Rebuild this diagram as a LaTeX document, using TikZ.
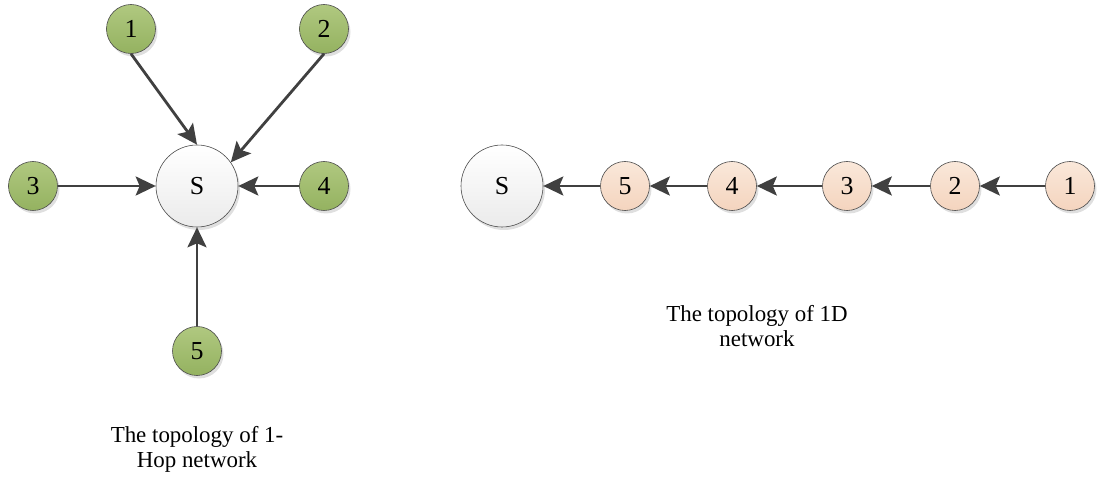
\documentclass[tikz,border=0pt]{standalone}
\usepackage{fontspec}
\setmainfont{Liberation Serif}
\usetikzlibrary{arrows.meta, shadows}
\definecolor{arrowgray}{RGB}{64,64,64}
\definecolor{greentop}{RGB}{176,200,128}
\definecolor{greenbot}{RGB}{148,178,96}
\definecolor{peachtop}{RGB}{250,232,218}
\definecolor{peachbot}{RGB}{244,212,190}

\begin{document}
\begin{tikzpicture}[x=1bp,y=-1bp,
    every edge/.style={draw=arrowgray,line width=2.8bp,
        -{Stealth[length=20bp,width=19bp,inset=4bp]}},
    every node/.style={font=\fontsize{26}{26}\selectfont},
    caption/.style={align=center,font=\fontsize{23}{25}\selectfont},
    sink/.style={circle,draw=black!70,line width=0.6bp,minimum size=82bp,inner sep=0pt,
        top color=white,bottom color=black!8,
        drop shadow={opacity=0.25,shadow xshift=2bp,shadow yshift=-3bp}},
    hop/.style={circle,draw=black!70,line width=0.6bp,minimum size=49bp,inner sep=0pt,
        top color=greentop,bottom color=greenbot,
        drop shadow={opacity=0.25,shadow xshift=2bp,shadow yshift=-3bp}},
    chain/.style={circle,draw=black!70,line width=0.6bp,minimum size=49bp,inner sep=0pt,
        top color=peachtop,bottom color=peachbot,
        drop shadow={opacity=0.25,shadow xshift=2bp,shadow yshift=-3bp}}]

        \useasboundingbox (0,0) rectangle (1102,477);

        % 1-hop network
        \node[sink] (s1) at (197,186) {S};
        \node[hop] (a1) at (131,29) {1};
        \node[hop] (a2) at (324,29) {2};
        \node[hop] (a3) at (33,186) {3};
        \node[hop] (a4) at (324,186) {4};
        \node[hop] (a5) at (197,351) {5};
        \node[caption] (cap1) at (197,449) {The topology of 1-\\Hop network};

        \path
        (a1.south) edge (s1.north)
        (a2.south) edge (s1.35)
        (a3) edge (s1)
        (a4) edge (s1)
        (a5) edge (s1)
        ;

        % 1D network
        \node[sink] (s2) at (502,186) {S};
        \node[chain] (b5) at (625,186) {5};
        \node[chain] (b4) at (732,186) {4};
        \node[chain] (b3) at (847,186) {3};
        \node[chain] (b2) at (955,186) {2};
        \node[chain] (b1) at (1070,186) {1};
        \node[caption] (cap2) at (757,326) {The topology of 1D\\network};

        \path
        (b1) edge (b2)
        (b2) edge (b3)
        (b3) edge (b4)
        (b4) edge (b5)
        (b5) edge (s2)
        ;
    \end{tikzpicture}
\end{document}
